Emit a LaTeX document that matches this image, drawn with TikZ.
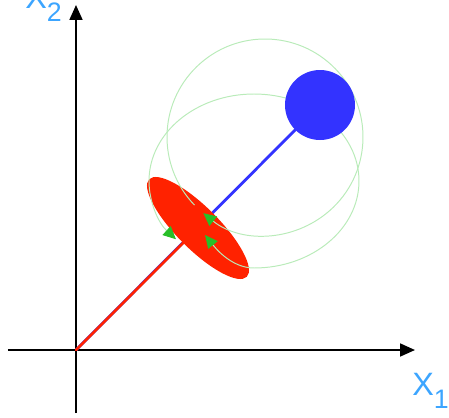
\documentclass[tikz,border=0pt]{standalone}
\usepackage{fontspec}
\setmainfont{Liberation Sans}
\definecolor{axblue}{RGB}{60,165,255}
\definecolor{rodblue}{RGB}{51,51,255}
\definecolor{discred}{RGB}{255,34,0}
\definecolor{orbitgreen}{RGB}{40,190,40}
\definecolor{orbitpale}{RGB}{185,235,185}
\usetikzlibrary{arrows.meta}

\begin{document}
\begin{tikzpicture}[x=0.025cm, y=0.025cm,
    axis/.style={line width=1.4pt, black, -{Triangle[length=0.37cm, width=0.32cm]}},
    rod/.style={line width=2pt, line cap=round},
    orbit/.style={draw=orbitpale, line width=0.7pt},
    lbl/.style={inner sep=0pt, anchor=base west, text=axblue, font=\fontsize{23}{23}\selectfont}
  ]
  \useasboundingbox (-76,-67) rectangle (373,350);

  % axes
  \coordinate (O) at (0,0);
  \coordinate (xs) at (-68,0);
  \coordinate (xe) at (339,0);
  \coordinate (ys) at (0,-63);
  \coordinate (ye) at (0,345);
  \draw[axis] (xs) -- (xe);
  \draw[axis] (ys) -- (ye);
  \node[lbl] (x1) at (336,-45) {X\raisebox{-0.42em}{\fontsize{19}{19}\selectfont 1}};
  \node[lbl] (x2) at (-51,342) {X\raisebox{-0.42em}{\fontsize{19}{19}\selectfont 2}};

  \coordinate (disc) at (122,122);
  \coordinate (ballc) at (244,245);
  \draw[rod, rodblue] (O) -- (ballc);
  \draw[rod, discred] (O) -- (disc);
  \fill[discred] (disc) ellipse[x radius=69, y radius=21, rotate=-45];

  % rotations
  \draw[orbit, -{Triangle[length=0.32cm, width=0.3cm, orbitgreen]}]
    (189,213) ++(224:98) arc[start angle=224, end angle=-129, radius=98];
  \draw[orbit, {Triangle[length=0.32cm, width=0.3cm, orbitgreen]}-{Triangle[length=0.32cm, width=0.3cm, orbitgreen]}]
    (129,115) .. controls (145,95) and (160,82) .. (178,82)
    arc[start angle=270, end angle=582, x radius=105, y radius=87];

  \node[circle, fill=rodblue, minimum size=70*0.025cm, inner sep=0pt] (ball) at (ballc) {};
\end{tikzpicture}
\end{document}
